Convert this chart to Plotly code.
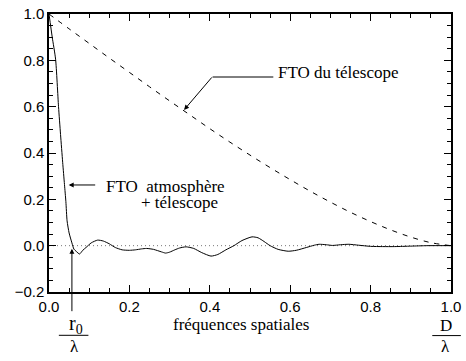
import plotly.graph_objects as go

# Telescope OTF (dashed)
freq_tel = [0.0, 0.05, 0.10, 0.15, 0.20, 0.25, 0.30, 0.35, 0.40, 0.45, 0.50,
            0.55, 0.60, 0.65, 0.70, 0.75, 0.80, 0.85, 0.90, 0.95, 1.0]
fto_tel = [1.0, 0.936, 0.873, 0.81, 0.748, 0.686, 0.625, 0.565, 0.505, 0.447, 0.391,
           0.337, 0.285, 0.235, 0.188, 0.144, 0.104, 0.068, 0.037, 0.013, 0.0]

# Atmosphere + telescope OTF (solid)
freq_atm = [0.0, 0.008, 0.0164, 0.0237, 0.0287, 0.034, 0.0385, 0.042, 0.045, 0.05,
            0.057, 0.062, 0.068, 0.076, 0.084, 0.092, 0.105, 0.121, 0.135, 0.15,
            0.165, 0.182, 0.20, 0.215, 0.23, 0.243, 0.26, 0.28, 0.29, 0.30,
            0.313, 0.325, 0.341, 0.36, 0.38, 0.403, 0.42, 0.44, 0.46, 0.48,
            0.505, 0.52, 0.535, 0.55, 0.57, 0.595, 0.615, 0.64, 0.66, 0.672,
            0.69, 0.705, 0.725, 0.746, 0.77, 0.80, 0.83, 0.86, 0.90, 0.94, 1.0]
fto_atm = [1.0, 0.9, 0.805, 0.6, 0.48, 0.36, 0.264, 0.19, 0.107, 0.055,
           0.012, -0.015, -0.025, -0.036, -0.02, -0.008, 0.012, 0.024, 0.02, 0.008,
           -0.008, -0.018, -0.02, -0.018, -0.014, -0.012, -0.016, -0.027, -0.032, -0.028,
           -0.018, -0.01, -0.005, -0.012, -0.03, -0.045, -0.038, -0.018, 0.0, 0.022,
           0.038, 0.034, 0.018, 0.0, -0.016, -0.024, -0.02, -0.008, 0.002, 0.006,
           0.004, 0.001, 0.004, 0.006, 0.002, -0.003, -0.004, -0.004, -0.002, 0.0, 0.0]

zero_x = [0.0, 1.0]
zero_y = [0.0, 0.0]

x_ticks = [0.0, 0.2, 0.4, 0.6, 0.8, 1.0]
y_ticks = [-0.2, 0.0, 0.2, 0.4, 0.6, 0.8, 1.0]
x_range = [0.0, 1.0]
y_range = [-0.2, 1.0]

SERIF = "Liberation Serif"
SANS = "Liberation Sans"

fig = go.Figure()
fig.add_trace(go.Scatter(x=zero_x, y=zero_y, mode="lines",
                         line=dict(color="#777777", width=1, dash="1px,3px"),
                         hoverinfo="skip", showlegend=False))
fig.add_trace(go.Scatter(x=freq_tel, y=fto_tel, mode="lines",
                         line=dict(color="black", width=1, dash="5px,6px", shape="spline"),
                         showlegend=False))
fig.add_trace(go.Scatter(x=freq_atm, y=fto_atm, mode="lines",
                         line=dict(color="black", width=1, shape="spline", smoothing=0.6),
                         showlegend=False))
# invisible trace to bring the top/right axes (mirrored minor ticks) into existence
fig.add_trace(go.Scatter(x=zero_x, y=zero_y, xaxis="x2", yaxis="y2", mode="lines",
                         line=dict(color="rgba(0,0,0,0)", width=0), hoverinfo="skip",
                         showlegend=False))

tick_common = dict(
    showgrid=False, zeroline=False, showline=True, linecolor="black", linewidth=1.5,
    ticks="inside", ticklen=7, tickwidth=1, tickcolor="black",
    minor=dict(ticks="inside", ticklen=4, tickwidth=1, tickcolor="black", dtick=0.05),
)
fig.update_layout(
    xaxis=dict(range=x_range, tickvals=x_ticks, tickformat=".1f",
               tickfont=dict(family=SANS, size=15, color="black"),
               ticklabeloverflow="allow", **tick_common),
    yaxis=dict(range=y_range, tickvals=y_ticks, tickformat=".1f",
               tickfont=dict(family=SANS, size=15, color="black"),
               ticklabeloverflow="allow", **tick_common),
    xaxis2=dict(range=x_range, tickvals=x_ticks, overlaying="x", side="top",
                showticklabels=False, **tick_common),
    yaxis2=dict(range=y_range, tickvals=y_ticks, overlaying="y", side="right",
                showticklabels=False, **tick_common),
)

W, H = 466, 361
L, R, T, B = 49, 9, 5, 69
pw, ph = W - L - R, H - T - B


def px(xp):
    return (xp - L) / pw


def py(yp):
    return (H - B - yp) / ph


ann = []
ann.append(dict(x=px(279), y=py(65), xref="paper", yref="paper", text="FTO du télescope",
                showarrow=False, xanchor="left", yanchor="middle",
                font=dict(family=SERIF, size=17, color="black")))
ann.append(dict(x=0.336, y=0.586, xref="x", yref="y", text="", showarrow=True,
                ax=29, ay=-34, arrowhead=2, arrowsize=1, arrowwidth=1, arrowcolor="black"))
ann.append(dict(x=px(105), y=py(183), xref="paper", yref="paper", text="FTO\u00a0\u00a0atmosphère",
                showarrow=False, xanchor="left", yanchor="middle",
                font=dict(family=SERIF, size=17, color="black")))
ann.append(dict(x=px(140), y=py(200), xref="paper", yref="paper", text="+ télescope",
                showarrow=False, xanchor="left", yanchor="middle",
                font=dict(family=SERIF, size=17, color="black")))
ann.append(dict(x=0.049, y=0.262, xref="x", yref="y", text="", showarrow=True,
                ax=28, ay=0, arrowhead=2, arrowsize=1, arrowwidth=1, arrowcolor="black"))
ann.append(dict(x=0.057, y=-0.013, xref="x", yref="y", text="", showarrow=True,
                ax=0, ay=64, arrowhead=2, arrowsize=1, arrowwidth=1, arrowcolor="black"))
ann.append(dict(x=px(244), y=py(326), xref="paper", yref="paper", text="fréquences spatiales",
                showarrow=False, xanchor="center", yanchor="middle",
                font=dict(family=SERIF, size=17, color="black")))
ann.append(dict(x=px(76), y=py(326), xref="paper", yref="paper", text="r<sub>0</sub>",
                showarrow=False, xanchor="center", yanchor="middle",
                font=dict(family=SERIF, size=20, color="black")))
ann.append(dict(x=px(75), y=py(348), xref="paper", yref="paper", text="λ",
                showarrow=False, xanchor="center", yanchor="middle",
                font=dict(family=SERIF, size=17, color="black")))
ann.append(dict(x=px(452), y=py(327), xref="paper", yref="paper", text="D",
                showarrow=False, xanchor="center", yanchor="middle",
                font=dict(family=SERIF, size=17, color="black")))
ann.append(dict(x=px(451), y=py(348), xref="paper", yref="paper", text="λ",
                showarrow=False, xanchor="center", yanchor="middle",
                font=dict(family=SERIF, size=17, color="black")))

shapes = [
    dict(type="line", xref="x", yref="y", x0=0.407, x1=0.558, y0=0.728, y1=0.728,
         line=dict(color="black", width=1)),
    dict(type="line", xref="paper", yref="paper", x0=px(59), x1=px(89), y0=py(336.7), y1=py(336.7),
         line=dict(color="black", width=1)),
    dict(type="line", xref="paper", yref="paper", x0=px(438), x1=px(467), y0=py(337), y1=py(337),
         line=dict(color="black", width=1)),
]

fig.update_layout(
    width=W, height=H,
    margin=dict(l=L, r=R, t=T, b=B, pad=0),
    plot_bgcolor="white", paper_bgcolor="white",
    annotations=ann, shapes=shapes, showlegend=False,
)

fig.write_html("out.html")
